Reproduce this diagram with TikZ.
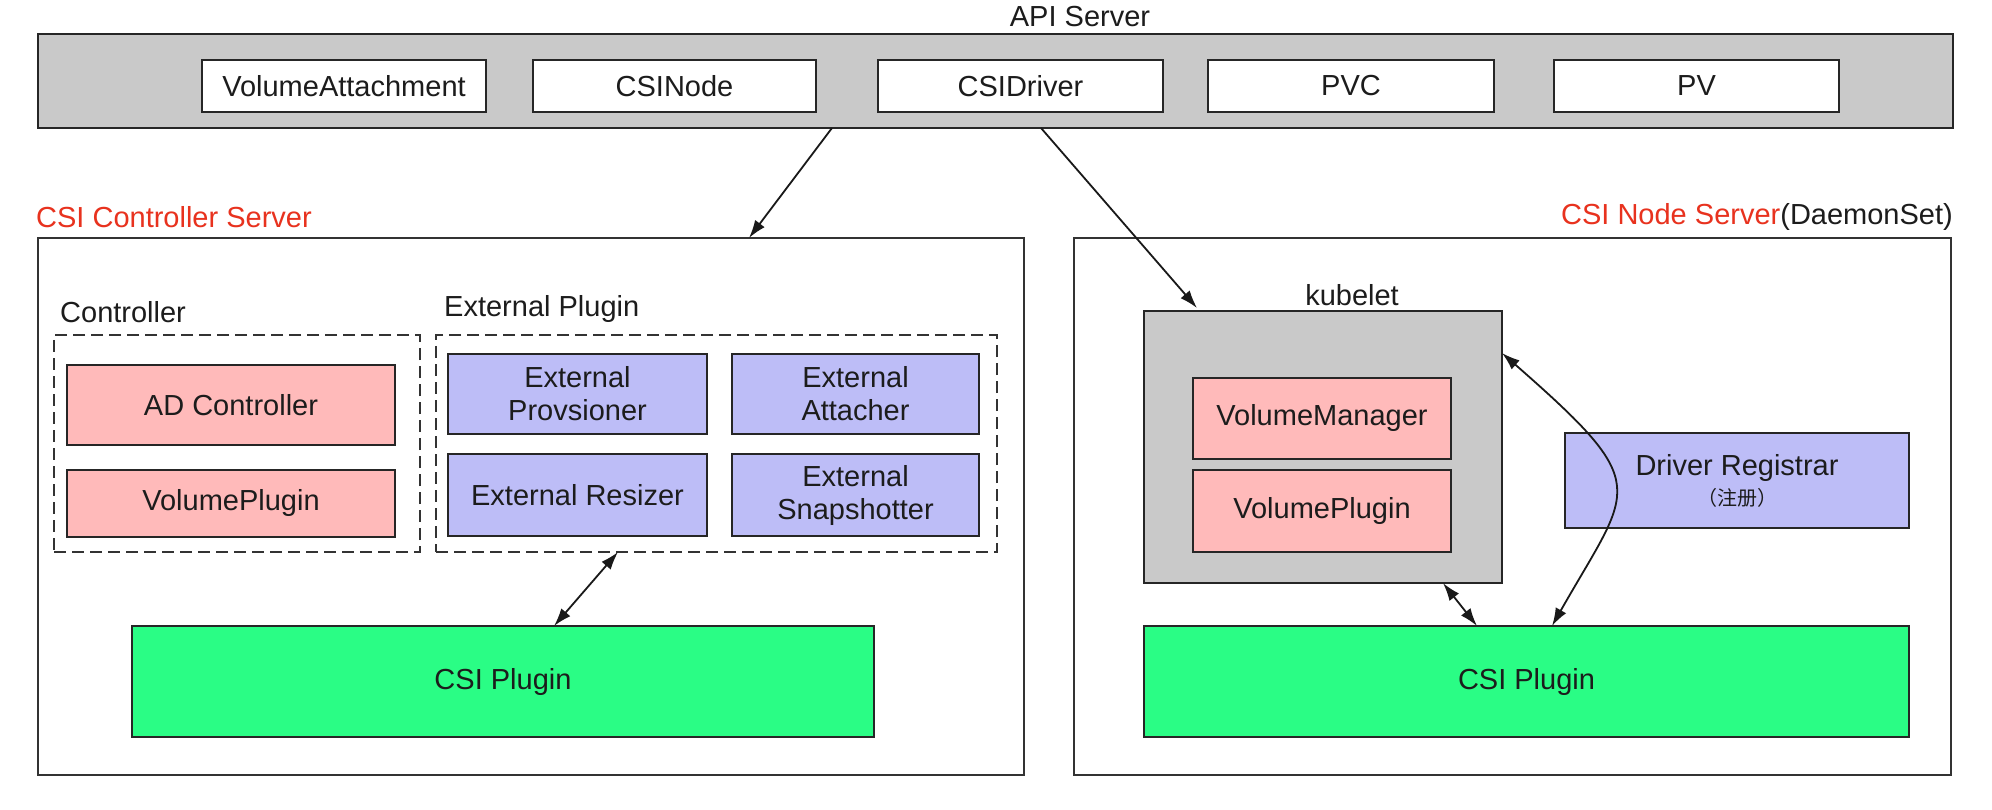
\documentclass[tikz,border=0pt]{standalone}
\usepackage{fontspec}
\setmainfont{Liberation Sans}
\newfontfamily\cjkfont{Noto Sans CJK SC}
\usetikzlibrary{arrows.meta}
\definecolor{grayfill}{HTML}{C9C9C9}
\definecolor{pinkfill}{HTML}{FFBABA}
\definecolor{lavfill}{HTML}{BDBDF7}
\definecolor{greenfill}{HTML}{2AFD85}
\definecolor{titlered}{HTML}{E8321E}
\definecolor{txt}{HTML}{1C1C1C}
\begin{document}
\begin{tikzpicture}[x=1pt,y=-1pt,
  font=\fontsize{29}{33}\selectfont,
  box/.style={draw=black!85, line width=2pt, inner sep=0pt, outer sep=0pt, text=txt, align=center},
  server/.style={draw=black!80, line width=1.6pt, inner sep=0pt, outer sep=0pt},
  group/.style={draw=black!80, line width=2pt, dash pattern=on 12pt off 6pt, inner sep=0pt, outer sep=0pt},
  lbl/.style={inner sep=0pt, text=txt},
  conn/.style={line width=1.8pt, draw=black!90, -{Latex[length=18pt,width=12pt]}},
  biconn/.style={line width=1.8pt, draw=black!90, {Latex[length=18pt,width=12pt]}-{Latex[length=18pt,width=12pt]}}
]
\useasboundingbox (0,0) rectangle (1992,810);
\fill[white] (0,0) rectangle (1992,810);

% API server
\node[lbl] (apilbl) at (1080,17) {API Server};
\node[box, fill=grayfill, minimum width=1915pt, minimum height=94pt] (api) at (995.5,81) {};
\node[box, fill=white, minimum width=284pt, minimum height=52pt] (va) at (344,86) {VolumeAttachment};
\node[box, fill=white, minimum width=283pt, minimum height=52pt] (csinode) at (674.5,86) {CSINode};
\node[box, fill=white, minimum width=285pt, minimum height=52pt] (csidriver) at (1020.5,86) {CSIDriver};
\node[box, fill=white, minimum width=286pt, minimum height=52pt] (pvc) at (1351,86) {PVC};
\node[box, fill=white, minimum width=285pt, minimum height=52pt] (pv) at (1696.5,86) {PV};

% server titles
\node[lbl, anchor=west, text=titlered] (ctrltitle) at (36,217) {CSI Controller Server};
\node[lbl, anchor=east] (nodetitle) at (1953,217) {\textcolor{titlered}{CSI Node Server}(DaemonSet)};

% controller server
\node[server, minimum width=986pt, minimum height=537pt] (ctrl) at (531,506.5) {};
\node[lbl, anchor=west] (ctrllbl) at (60,312) {Controller};
\node[lbl, anchor=west] (extlbl) at (444,309) {External Plugin};
\node[group, minimum width=366pt, minimum height=217pt] (ctrldash) at (237,443.5) {};
\node[group, minimum width=561pt, minimum height=217pt] (extdash) at (716.5,443.5) {};
\node[box, fill=pinkfill, minimum width=328pt, minimum height=80pt] (adc) at (231,405) {AD Controller};
\node[box, fill=pinkfill, minimum width=328pt, minimum height=67pt] (vpc) at (231,503.5) {VolumePlugin};
\node[box, fill=lavfill, minimum width=259pt, minimum height=80pt] (prov) at (577.5,394) {External\\Provsioner};
\node[box, fill=lavfill, minimum width=247pt, minimum height=80pt] (att) at (855.5,394) {External\\Attacher};
\node[box, fill=lavfill, minimum width=259pt, minimum height=82pt] (res) at (577.5,495) {External Resizer};
\node[box, fill=lavfill, minimum width=247pt, minimum height=82pt] (snap) at (855.5,495) {External\\Snapshotter};
\node[box, fill=greenfill, minimum width=742pt, minimum height=111pt] (cpl) at (503,681.5) {CSI Plugin};

% node server
\node[server, minimum width=877pt, minimum height=537pt] (nsrv) at (1512.5,506.5) {};
\node[lbl] (kubelbl) at (1352,295) {kubelet};
\node[box, fill=grayfill, minimum width=358pt, minimum height=272pt] (kubelet) at (1323,447) {};
\node[box, fill=pinkfill, minimum width=258pt, minimum height=81pt] (vm) at (1322,418.5) {VolumeManager};
\node[box, fill=pinkfill, minimum width=258pt, minimum height=82pt] (vpn) at (1322,511) {VolumePlugin};
\node[box, fill=lavfill, minimum width=344pt, minimum height=95pt] (dr) at (1737,480.5) {Driver Registrar\\[-3pt]{\cjkfont\fontsize{20}{22}\selectfont （注册）}};
\node[box, fill=greenfill, minimum width=765pt, minimum height=111pt] (cpr) at (1526.5,681.5) {CSI Plugin};

% connectors
\draw[conn] ([xshift=794pt]api.south west) -- ([xshift=711pt]ctrl.north west);
\draw[conn] ([xshift=1003pt]api.south west) -- ([xshift=53pt,yshift=3pt]kubelet.north west);
\draw[biconn] ([xshift=182pt]extdash.south west) -- ([xshift=422pt]cpl.north west);
\draw[biconn] ([xshift=299pt]kubelet.south west) -- ([xshift=333pt]cpr.north west);
\draw[biconn] ([yshift=-42pt]kubelet.north east) .. controls (1655,487) and (1632,485) .. ([xshift=408pt]cpr.north west);
\end{tikzpicture}
\end{document}
